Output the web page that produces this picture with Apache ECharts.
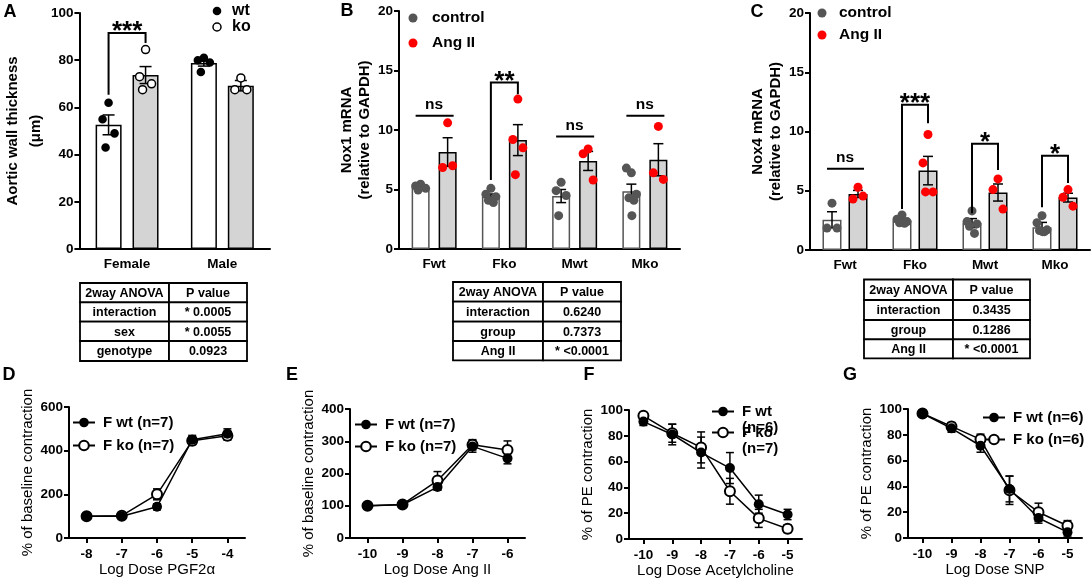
<!DOCTYPE html>
<html>
<head>
<meta charset="utf-8">
<script src="https://cdn.jsdelivr.net/npm/echarts@6/dist/echarts.min.js"></script>
<style>
html, body { margin: 0; padding: 0; background: #fff; }
#chart { width: 1091px; height: 581px; }
</style>
</head>
<body>
<div id="chart"></div>
<script>
// ---- panel A: aortic wall thickness ----
var aCats = ['Female', 'Male'];
var aWtMean = [52.6, 78.8];
var aWtSem = [4.2, 1.3];
var aKoMean = [73.7, 69.2];
var aKoSem = [3.6, 2.2];
var aWtPts = [[62, 55, 49, 43], [81, 80, 79, 75]];
var aKoPts = [[84.5, 73, 70, 67.5], [72.5, 67.5, 67.5]];
var aSigText = ['***'];
var aSigTop = [91.5];
var aSigLeft = [65.4];
var aSigRight = [87.3];

// ---- panel B: Nox1 ----
var grpCats = ['Fwt', 'Fko', 'Mwt', 'Mko'];
var bCtlMean = [5.2, 4.42, 4.45, 4.85];
var bCtlSem = [0.15, 0.2, 0.55, 0.6];
var bAngMean = [8.15, 9.15, 7.4, 7.5];
var bAngSem = [1.2, 1.3, 0.8, 1.35];
var bCtlPts = [[5.45, 5.3, 5.1, 4.95], [5.1, 4.6, 4.4, 4.1, 3.9], [5.6, 4.9, 4.5, 2.8], [6.4, 6.8, 4.6, 4.3, 4.1, 2.8]];
var bAngPts = [[10.6, 6.85, 7.0], [12.6, 9.2, 8.5, 6.25], [8.4, 8.0, 5.8], [10.3, 6.4, 5.85]];
var bSigText = ['ns', '**', 'ns', 'ns'];
var bSigTop = [11.2, 14.0, 9.45, 11.2];
var bSigLeft = [11.2, 5.8, 9.45, 11.2];
var bSigRight = [11.2, 13.0, 9.45, 11.2];

// ---- panel C: Nox4 ----
var cCtlMean = [2.55, 2.5, 2.27, 1.93];
var cCtlSem = [0.68, 0.13, 0.38, 0.4];
var cAngMean = [4.73, 6.7, 4.85, 4.42];
var cAngSem = [0.3, 1.2, 0.72, 0.37];
var cCtlPts = [[3.95, 1.85, 1.85], [2.95, 2.6, 2.4, 2.3, 2.25], [3.3, 2.4, 2.2, 2.0, 1.4], [2.9, 2.3, 1.7, 1.65, 1.55, 1.55]];
var cAngPts = [[5.3, 4.3, 4.55], [9.75, 7.35, 4.9, 4.9], [6.0, 5.1, 3.45], [5.1, 4.45, 3.7]];
var cSigText = ['ns', '***', '*', '*'];
var cSigTop = [6.85, 12.26, 8.96, 7.95];
var cSigLeft = [6.85, 3.47, 3.1, 3.6];
var cSigRight = [6.85, 10.7, 6.76, 5.66];

// ---- tables ----
var tabA = [['2way ANOVA', 'P value'], ['interaction', '* 0.0005'], ['sex', '* 0.0055'], ['genotype', '0.0923']];
var tabB = [['2way ANOVA', 'P value'], ['interaction', '0.6240'], ['group', '0.7373'], ['Ang II', '* <0.0001']];
var tabC = [['2way ANOVA', 'P value'], ['interaction', '0.3435'], ['group', '0.1286'], ['Ang II', '* <0.0001']];

// ---- panels D-G: dose responses ----
var dDose = ['-8', '-7', '-6', '-5', '-4'];
var dWt = [100, 100, 143, 450, 478];
var dWtErr = [3, 4, 14, 20, 22];
var dKo = [100, 102, 200, 445, 468];
var dKoErr = [3, 4, 25, 18, 20];

var eDose = ['-10', '-9', '-8', '-7', '-6'];
var eWt = [100, 103, 158, 284, 247];
var eWtErr = [3, 4, 10, 18, 17];
var eKo = [100, 104, 178, 289, 273];
var eKoErr = [3, 5, 28, 16, 28];

var fDose = ['-10', '-9', '-8', '-7', '-6', '-5'];
var fWt = [91, 81, 67, 55, 27, 19];
var fWtErr = [3, 8, 12, 12, 7, 4];
var fKo = [95.5, 82, 71, 37, 16, 8];
var fKoErr = [2, 7, 12, 10, 7, 3];

var gDose = ['-10', '-9', '-8', '-7', '-6', '-5'];
var gWt = [96.5, 85, 71.5, 38, 15.5, 4.5];
var gWtErr = [2, 3, 5, 10, 4, 3];
var gKo = [96.5, 86.5, 76.5, 37, 20, 9.5];
var gKoErr = [2, 3, 4, 11, 7, 4];

var FONT = '"Liberation Sans", Arial, Helvetica, sans-serif';
var GRAYBAR = '#d4d4d4';
var CTL = '#555555';
var RED = '#ff0000';
var JIT = [0, -5, 5, -2.5, 2.5, 0.5];

var chart = echarts.init(document.getElementById('chart'));

function lbl(size, weight) {
    return { color: '#000', fontSize: size, fontWeight: weight || 'bold', fontFamily: FONT };
}

function yAx(gi, max, step, name, gap, lh) {
    return {
        type: 'value', gridIndex: gi, min: 0, max: max, interval: step,
        name: name, nameLocation: 'middle', nameGap: gap,
        nameTextStyle: { color: '#000', fontSize: 15, fontWeight: gi < 3 ? 'bold' : 'normal', fontFamily: FONT, lineHeight: lh },
        axisLine: { show: true, lineStyle: { color: '#000', width: 2 } },
        axisTick: { show: true, length: 5, lineStyle: { color: '#000', width: 2 } },
        axisLabel: Object.assign({ margin: 6 }, lbl(13.5)),
        splitLine: { show: false }
    };
}

function xCat(gi, cats, ticks, name) {
    var ax = {
        type: 'category', gridIndex: gi, data: cats,
        axisLine: { lineStyle: { color: '#000', width: 2 } },
        axisTick: { show: ticks, alignWithLabel: true, length: 5, lineStyle: { color: '#000', width: 2 } },
        axisLabel: Object.assign({ margin: ticks ? 9 : 8 }, lbl(13.5)),
        splitLine: { show: false }
    };
    if (name) {
        ax.name = name;
        ax.nameLocation = 'middle';
        ax.nameGap = 24;
        ax.nameTextStyle = lbl(15, 'normal');
    }
    return ax;
}

function barSeries(name, gi, vals, fill, stroke, bw, gap) {
    return {
        type: 'bar', name: name, xAxisIndex: gi, yAxisIndex: gi, data: vals,
        barWidth: bw, barGap: gap, silent: true, z: 2,
        itemStyle: { color: fill, borderColor: stroke, borderWidth: 1.5 }
    };
}

function errSeries(gi, means, sems, dx, cap, z) {
    var d = means.map(function (m, i) { return [i, m, sems[i]]; });
    return {
        type: 'custom', xAxisIndex: gi, yAxisIndex: gi, data: d, silent: true, z: z || 3,
        renderItem: function (params, api) {
            var i = api.value(0), m = api.value(1), s = api.value(2);
            var hi = api.coord([i, m + s]);
            var lo = api.coord([i, m - s]);
            var x = hi[0] + dx;
            var st = { stroke: '#000', lineWidth: 1.5 };
            return {
                type: 'group', children: [
                    { type: 'line', shape: { x1: x, y1: lo[1], x2: x, y2: hi[1] }, style: st },
                    { type: 'line', shape: { x1: x - cap, y1: hi[1], x2: x + cap, y2: hi[1] }, style: st },
                    { type: 'line', shape: { x1: x - cap, y1: lo[1], x2: x + cap, y2: lo[1] }, style: st }
                ]
            };
        }
    };
}

function ptSeries(gi, groups, dx, r, style, k) {
    var d = [];
    groups.forEach(function (g, c) {
        g.forEach(function (v, i) { d.push([c, v, i]); });
    });
    return {
        type: 'custom', xAxisIndex: gi, yAxisIndex: gi, data: d, silent: true, z: 4,
        renderItem: function (params, api) {
            var p = api.coord([api.value(0), api.value(1)]);
            return {
                type: 'circle',
                shape: { cx: p[0] + dx + JIT[api.value(2)] * k, cy: p[1], r: r },
                style: style
            };
        }
    };
}

function sigSeries(gi, texts, tops, lefts, rights, dx) {
    var d = tops.map(function (t, i) { return [i, t, lefts[i], rights[i]]; });
    return {
        type: 'custom', xAxisIndex: gi, yAxisIndex: gi, data: d, silent: true, z: 5,
        renderItem: function (params, api) {
            var i = api.value(0);
            var txt = texts[params.dataIndex];
            var top = api.coord([i, api.value(1)]);
            var xl = top[0] - dx, xr = top[0] + dx;
            var st = { stroke: '#000', lineWidth: 2, fill: null };
            var kids = [];
            if (txt === 'ns') {
                kids.push({ type: 'line', shape: { x1: xl - 5, y1: top[1], x2: xr + 6, y2: top[1] }, style: st });
                kids.push({ type: 'text', x: (xl + xr) / 2, y: top[1] - 11,
                    style: { text: txt, fill: '#000', font: 'bold 15.5px ' + FONT, textAlign: 'center', textVerticalAlign: 'middle', align: 'center', verticalAlign: 'middle' } });
            } else {
                var yl = api.coord([i, api.value(2)])[1];
                var yr = api.coord([i, api.value(3)])[1];
                kids.push({ type: 'polyline', shape: { points: [[xl, yl], [xl, top[1]], [xr, top[1]], [xr, yr]] }, style: st });
                kids.push({ type: 'text', x: (xl + xr) / 2, y: top[1] - 1,
                    style: { text: txt, fill: '#000', font: 'bold 26px ' + FONT, textAlign: 'center', textVerticalAlign: 'middle', align: 'center', verticalAlign: 'middle' } });
            }
            return { type: 'group', children: kids };
        }
    };
}

function lineSeries(name, gi, vals, open) {
    return {
        type: 'line', name: name, xAxisIndex: gi, yAxisIndex: gi, data: vals,
        symbol: open ? 'emptyCircle' : 'circle', symbolSize: 10,
        lineStyle: { color: '#000', width: 1.5 },
        itemStyle: { color: '#000', borderColor: '#000', borderWidth: open ? 2 : 0 },
        z: open ? 4 : 5, silent: true
    };
}

function tableEls(xs, ys, rows) {
    var els = [];
    rows.forEach(function (row, r) {
        row.forEach(function (cell, c) {
            els.push({ type: 'rect', shape: { x: xs[c], y: ys[r], width: xs[c + 1] - xs[c], height: ys[r + 1] - ys[r] },
                style: { fill: '#fff', stroke: '#000', lineWidth: 1.8 } });
            els.push({ type: 'text', x: (xs[c] + xs[c + 1]) / 2, y: (ys[r] + ys[r + 1]) / 2 + 1,
                style: { text: cell, fill: '#000', font: 'bold 12.5px ' + FONT, textAlign: 'center', textVerticalAlign: 'middle', align: 'center', verticalAlign: 'middle' } });
        });
    });
    return els;
}

function txt(s, x, y, size, weight, align) {
    return { type: 'text', x: x, y: y,
        style: { text: s, fill: '#000', font: (weight || 'bold') + ' ' + size + 'px ' + FONT,
            textAlign: align || 'center', textVerticalAlign: 'middle', align: align || 'center', verticalAlign: 'middle' } };
}

function dot(x, y, r, style) {
    return { type: 'circle', shape: { cx: x, cy: y, r: r }, style: style };
}

var graphics = [
    txt('A', 10, 12, 18), txt('B', 347, 11, 18), txt('C', 757, 12, 18),
    txt('D', 9, 375, 18), txt('E', 292, 375, 18), txt('F', 589, 375, 18), txt('G', 850, 375, 18),
    dot(217, 11, 4.3, { fill: '#000' }), txt('wt', 232, 11, 16, 'bold', 'left'),
    dot(217, 27, 4, { fill: '#fff', stroke: '#000', lineWidth: 1.5 }), txt('ko', 232, 27, 16, 'bold', 'left'),
    dot(413, 18, 4.5, { fill: CTL }), txt('control', 432, 18, 15.5, 'bold', 'left'),
    dot(413, 43, 4.5, { fill: RED }), txt('Ang II', 432, 43, 15.5, 'bold', 'left'),
    dot(822, 13, 4.5, { fill: CTL }), txt('control', 839, 13, 15.5, 'bold', 'left'),
    dot(822, 35, 4.5, { fill: RED }), txt('Ang II', 839, 35, 15.5, 'bold', 'left'),
    txt('(n=6)', 742, 428, 15, 'bold', 'left'), txt('(n=7)', 742, 449, 15, 'bold', 'left')
];
graphics = graphics.concat(tableEls([80, 169, 247], [283, 302.3, 321.7, 341, 361], tabA));
graphics = graphics.concat(tableEls([453, 543, 621], [282, 301.7, 321.7, 341, 360.3], tabB));
graphics = graphics.concat(tableEls([864, 953, 1030], [279.5, 300, 320, 339.3, 358.3], tabC));

var legendText = { color: '#000', fontSize: 15, fontWeight: 'bold', fontFamily: FONT, padding: [0, 0, 0, 3] };
function leg(names, left, top, gap) {
    return { data: names, left: left, top: top, padding: 0, orient: 'vertical', itemWidth: 22, itemHeight: 12,
        itemGap: gap, selectedMode: false, textStyle: legendText };
}

var option = {
    animation: false,
    backgroundColor: '#fff',
    textStyle: { fontFamily: FONT },
    grid: [
        { left: 70, top: 13, width: 200, height: 236 },
        { left: 399, top: 11, width: 281, height: 238 },
        { left: 810, top: 13, width: 280, height: 237 },
        { left: 69, top: 407, width: 176, height: 131 },
        { left: 350, top: 409, width: 175, height: 129 },
        { left: 629, top: 410, width: 173, height: 129 },
        { left: 908, top: 409, width: 174, height: 129 }
    ],
    xAxis: [
        xCat(0, aCats, false), xCat(1, grpCats, false), xCat(2, grpCats, false),
        xCat(3, dDose, true, 'Log Dose PGF2\u03b1'), xCat(4, eDose, true, 'Log Dose Ang II'),
        xCat(5, fDose, true, 'Log Dose Acetylcholine'), xCat(6, gDose, true, 'Log Dose SNP')
    ],
    yAxis: [
        yAx(0, 100, 20, 'Aortic wall thickness\n(\u03bcm)', 24, 23),
        yAx(1, 20, 5, 'Nox1 mRNA\n(relative to GAPDH)', 22, 18),
        yAx(2, 20, 5, 'Nox4 mRNA\n(relative to GAPDH)', 23, 18),
        yAx(3, 600, 200, '% of baseline contraction', 32, 17),
        yAx(4, 400, 100, '% of baseline contraction', 31.5, 17),
        yAx(5, 100, 20, '% of PE contraction', 30.5, 17),
        yAx(6, 100, 20, '% of PE contraction', 31.5, 17)
    ],
    legend: [
        leg(['F wt (n=7)', 'F ko (n=7)'], 72, 415, 8),
        leg(['F wt (n=7)', 'F ko (n=7)'], 354, 417, 7),
        leg(['F wt', 'F ko'], 711, 404, 6),
        leg(['F wt (n=6)', 'F ko (n=6)'], 982, 410, 7)
    ],
    graphic: graphics,
    series: [
        // A
        barSeries('wt', 0, aWtMean, '#fff', '#000', 26, '42%'),
        barSeries('ko', 0, aKoMean, GRAYBAR, '#000', 26, '42%'),
        errSeries(0, aWtMean, aWtSem, -18.5, 6),
        errSeries(0, aKoMean, aKoSem, 18.5, 6),
        ptSeries(0, aWtPts, -18.5, 4.3, { fill: '#000' }, 1.2),
        ptSeries(0, aKoPts, 18.5, 4, { fill: '#fff', stroke: '#000', lineWidth: 1.5 }, 1.2),
        sigSeries(0, aSigText, aSigTop, aSigLeft, aSigRight, 18.5),
        // B
        barSeries('control', 1, bCtlMean, '#fff', CTL, 18, '50%'),
        barSeries('Ang II', 1, bAngMean, GRAYBAR, '#000', 18, '50%'),
        errSeries(1, bCtlMean, bCtlSem, -13.5, 5),
        errSeries(1, bAngMean, bAngSem, 13.5, 5),
        ptSeries(1, bCtlPts, -13.5, 4.5, { fill: CTL }, 1),
        ptSeries(1, bAngPts, 13.5, 4.5, { fill: RED }, 1),
        sigSeries(1, bSigText, bSigTop, bSigLeft, bSigRight, 13.5),
        // C
        barSeries('control', 2, cCtlMean, '#fff', CTL, 19, '37%'),
        barSeries('Ang II', 2, cAngMean, GRAYBAR, '#000', 19, '37%'),
        errSeries(2, cCtlMean, cCtlSem, -13, 5),
        errSeries(2, cAngMean, cAngSem, 13, 5),
        ptSeries(2, cCtlPts, -13, 4.5, { fill: CTL }, 1),
        ptSeries(2, cAngPts, 13, 4.5, { fill: RED }, 1),
        sigSeries(2, cSigText, cSigTop, cSigLeft, cSigRight, 13),
        // D
        lineSeries('F ko (n=7)', 3, dKo, true), lineSeries('F wt (n=7)', 3, dWt, false),
        errSeries(3, dKo, dKoErr, 0, 4, 3), errSeries(3, dWt, dWtErr, 0, 4, 3),
        // E
        lineSeries('F ko (n=7)', 4, eKo, true), lineSeries('F wt (n=7)', 4, eWt, false),
        errSeries(4, eKo, eKoErr, 0, 4, 3), errSeries(4, eWt, eWtErr, 0, 4, 3),
        // F
        lineSeries('F ko', 5, fKo, true), lineSeries('F wt', 5, fWt, false),
        errSeries(5, fKo, fKoErr, 0, 4, 3), errSeries(5, fWt, fWtErr, 0, 4, 3),
        // G
        lineSeries('F ko (n=6)', 6, gKo, true), lineSeries('F wt (n=6)', 6, gWt, false),
        errSeries(6, gKo, gKoErr, 0, 4, 3), errSeries(6, gWt, gWtErr, 0, 4, 3)
    ]
};

chart.setOption(option);
</script>
</body>
</html>
